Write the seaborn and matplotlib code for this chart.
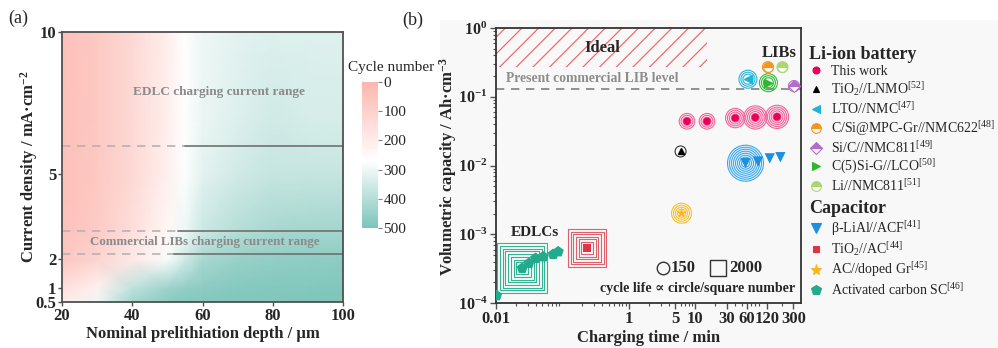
import numpy as np
import matplotlib
matplotlib.use('Agg')
import matplotlib.pyplot as plt
import seaborn as sns
from matplotlib.colors import LinearSegmentedColormap
from matplotlib.lines import Line2D
from matplotlib.patches import Rectangle
from matplotlib.ticker import LogLocator, NullFormatter, FixedLocator

sns.set_theme(style='ticks')
plt.rcParams['font.family'] = ['Liberation Serif', 'DejaVu Serif']
plt.rcParams['mathtext.fontset'] = 'custom'
plt.rcParams['mathtext.rm'] = 'Liberation Serif'
plt.rcParams['mathtext.bf'] = 'Liberation Serif:bold'
plt.rcParams['mathtext.it'] = 'Liberation Serif:italic'
plt.rcParams['mathtext.default'] = 'regular'
plt.rcParams['hatch.linewidth'] = 0.9

# ---------------- Panel (a) data ----------------
depth = [20, 30, 40, 50, 55, 60, 70, 80, 90, 100]
current = [0.5, 1, 2, 3, 5, 7, 10]
cycles = [
    [200, 300, 430, 470, 480, 485, 490, 490, 495, 495],   # 0.5
    [150, 220, 380, 440, 460, 470, 480, 485, 485, 490],   # 1
    [60, 110, 190, 280, 350, 420, 450, 460, 465, 470],    # 2
    [45, 80, 150, 240, 300, 360, 400, 420, 430, 430],     # 3
    [40, 70, 130, 215, 275, 320, 350, 370, 370, 370],     # 5
    [40, 70, 130, 210, 265, 305, 330, 350, 340, 340],     # 7
    [40, 70, 130, 210, 265, 300, 320, 330, 330, 330],     # 10
]
range_levels = [6.0, 3.0, 2.2]
range_split = [55, 53, 52]
a_xticks = [20, 40, 60, 80, 100]
a_yticks = [0.5, 1, 2, 5, 10]
cbar_ticks = [0, 100, 200, 300, 400, 500]

# ---------------- Panel (b) data ----------------
this_t = [7.5, 15, 40, 80, 170]
this_c = [0.044, 0.044, 0.049, 0.050, 0.051]
this_rings = [3, 3, 4, 5, 5]

lnmo_t = [6.0]; lnmo_c = [0.016]; lnmo_rings = [1]
lto_t = [62]; lto_c = [0.18]; lto_rings = [3]
csimpc_t = [124]; csimpc_c = [0.27]; csimpc_rings = [1]
sic_t = [306]; sic_c = [0.143]; sic_rings = [1]
c5si_t = [126]; c5si_c = [0.16]; c5si_rings = [3]
linmc_t = [205]; linmc_c = [0.27]; linmc_rings = [1]

lial_t = [57, 88, 132, 191]
lial_c = [0.0108, 0.0114, 0.0127, 0.0132]
lial_rings = [8, 0, 0, 0]
tio2ac_t = [0.236]; tio2ac_c = [6.3e-4]; tio2ac_squares = [6]
acgr_t = [6.2]; acgr_c = [0.00202]; acgr_rings = [4]
acsc_t = [0.0102, 0.0248, 0.0313, 0.0395, 0.0514, 0.0727, 0.0865]
acsc_c = [1.28e-4, 3.2e-4, 3.78e-4, 4.47e-4, 4.71e-4, 5.1e-4, 5.57e-4]
acsc_squares = [0, 8, 0, 0, 0, 0, 0]

ideal_t = [0.01, 15]
ideal_c = [0.27, 1.0]
lib_level = 0.131
b_xticks = [0.01, 1, 5, 10, 30, 60, 120, 300]
b_xticklabels = ['0.01', '1', '5', '10', '30', '60', '120', '300']
b_yticks = [1e-4, 1e-3, 1e-2, 1e-1, 1e0]

# ---------------- Figure ----------------
W, H = 998, 348
fig = plt.figure(figsize=(W / 100, H / 100), dpi=100)
fig.patches.append(Rectangle((440 / W, 0), 1 - 440 / W, 1 - 20 / H, transform=fig.transFigure,
                             facecolor='#f8f8f8', edgecolor='none', zorder=-10))

def fbox(x0, y0, x1, y1):
    return [x0 / W, 1 - y1 / H, (x1 - x0) / W, (y1 - y0) / H]

axa = fig.add_axes(fbox(62, 32, 343, 302))
cax = fig.add_axes(fbox(362, 82, 378, 228))
axb = fig.add_axes(fbox(496, 28, 801, 303))

spine_c = '#505050'
LABEL_FS = 12

# ----- panel (a)
cmap = LinearSegmentedColormap.from_list('cyc', [(0, '#fcb6ae'), (0.54, '#ffffff'), (1, '#7cc4b9')])
Z = np.array(cycles, dtype=float)
mesh = axa.pcolormesh(depth, current, Z, shading='gouraud', cmap=cmap, vmin=0, vmax=500)
axa.set_xlim(20, 100)
axa.set_ylim(0.5, 10)
for lev, sp in zip(range_levels, range_split):
    axa.plot([20, sp], [lev, lev], color='#b3b3b3', lw=1.2, ls=(0, (5, 4)))
    axa.plot([sp, 100], [lev, lev], color='#707070', lw=1.2)
axa.text(64.7, 7.9, 'EDLC charging current range', ha='center', va='center',
         fontsize=9.5, fontweight='bold', color='#8a8a8a')
axa.text(60.7, 2.62, 'Commercial LIBs charging current range', ha='center', va='center',
         fontsize=9.3, fontweight='bold', color='#8a8a8a')
axa.set_xticks(a_xticks)
axa.set_yticks(a_yticks)
axa.set_yticklabels(['0.5', '1', '2', '5', '10'])
axa.set_xlabel('Nominal prelithiation depth / μm', fontsize=LABEL_FS, fontweight='bold', labelpad=2)
axa.set_ylabel(r'Current density / mA·cm$^{\mathbf{-2}}$', fontsize=LABEL_FS, fontweight='bold')
axa.yaxis.set_label_coords(-0.078, 0.5)
axa.tick_params(direction='out', length=3, width=1, labelsize=12, pad=1, color=spine_c)
for lbl in axa.get_xticklabels() + axa.get_yticklabels():
    lbl.set_fontweight('bold')
for s in axa.spines.values():
    s.set_color(spine_c); s.set_linewidth(1.3)

cb = fig.colorbar(mesh, cax=cax, ticks=cbar_ticks)
cb.outline.set_visible(False)
cax.invert_yaxis()
cax.tick_params(direction='out', length=3, width=0.8, labelsize=11, pad=1, color='#808080')
fig.text(348 / W, 1 - 67 / H, 'Cycle number', fontsize=11, ha='left', va='center')

fig.text(8 / W, 1 - 18 / H, '(a)', fontsize=13, ha='left', va='center')
fig.text(402 / W, 1 - 20 / H, '(b)', fontsize=13, ha='left', va='center')

# ----- panel (b)
axb.set_facecolor('none')
axb.set_xscale('log'); axb.set_yscale('log')
axb.set_xlim(0.01, 390)
axb.set_ylim(1e-4, 1)

PX = 0.72  # points per pixel

def rings(ax, t, c, nrings, color, r0=4.0, step=2.0, marker='o', lw=0.8):
    for ti, ci, n in zip(t, c, nrings):
        for k in range(n):
            r = r0 + step * k
            ax.scatter([ti], [ci], s=(2 * r * PX) ** 2, marker=marker, facecolors='none',
                       edgecolors=color, linewidths=lw, zorder=3)

ax = axb
ax.fill_between(ideal_t, ideal_c[0], ideal_c[1], facecolor='none', edgecolor='#f36a6a',
                hatch='//', linewidth=0, zorder=1)
ax.axhline(lib_level, color='#808080', lw=1.2, ls=(0, (5, 4)), zorder=1)

# rings/squares
rings(ax, this_t, this_c, this_rings, '#f2639a', r0=4.0, step=1.9)
rings(ax, lnmo_t, lnmo_c, lnmo_rings, '#333333', r0=5.5)
rings(ax, lto_t, lto_c, lto_rings, '#27b6dc', r0=5.0, step=2.0)
rings(ax, c5si_t, c5si_c, c5si_rings, '#2fbf3a', r0=5.0, step=2.0)
rings(ax, csimpc_t, csimpc_c, csimpc_rings, '#f7931e', r0=5.5)
rings(ax, linmc_t, linmc_c, linmc_rings, '#a9d86e', r0=5.5)
rings(ax, sic_t, sic_c, sic_rings, '#b36bd0', r0=5.5)
rings(ax, lial_t, lial_c, lial_rings, '#38a7ee', r0=4.0, step=2.0)
rings(ax, acgr_t, acgr_c, acgr_rings, '#fbc02d', r0=4.0, step=2.0)
rings(ax, tio2ac_t, tio2ac_c, tio2ac_squares, '#e0606e', r0=6.0, step=2.6, marker='s')
rings(ax, acsc_t, acsc_c, acsc_squares, '#34b496', r0=6.0, step=2.7, marker='s')

# core markers
sns.scatterplot(x=this_t, y=this_c, ax=ax, marker='o', color='#e8005a', s=30, edgecolor='none', zorder=5, legend=False)
sns.scatterplot(x=lial_t, y=lial_c, ax=ax, marker='v', color='#1a8fe3', s=55, edgecolor='none', zorder=5, legend=False)
sns.scatterplot(x=tio2ac_t, y=tio2ac_c, ax=ax, marker='s', color='#dc3545', s=30, edgecolor='none', zorder=5, legend=False)
sns.scatterplot(x=acgr_t, y=acgr_c, ax=ax, marker='*', color='#fbb41c', s=60, edgecolor='none', zorder=5, legend=False)
sns.scatterplot(x=acsc_t, y=acsc_c, ax=ax, marker='p', color='#21ab8c', s=70, edgecolor='none', zorder=5, legend=False)
ax.plot(lnmo_t, lnmo_c, ls='none', marker='^', color='black', ms=5, zorder=5)
ax.plot(lto_t, lto_c, ls='none', marker='<', color='#1cb5d8', ms=6, zorder=5)
ax.plot(c5si_t, c5si_c, ls='none', marker='>', color='#2db82d', ms=6, zorder=5)
ax.plot(csimpc_t, csimpc_c, ls='none', marker='o', color='#f7941d', fillstyle='top',
        markerfacecoloralt='white', ms=7, mew=0.8, zorder=5)
ax.plot(linmc_t, linmc_c, ls='none', marker='o', color='#a8d86e', fillstyle='top',
        markerfacecoloralt='white', ms=7, mew=0.8, zorder=5)
ax.plot(sic_t, sic_c, ls='none', marker='D', color='#b26ccc', fillstyle='top',
        markerfacecoloralt='white', ms=6, mew=0.8, zorder=5)

# annotations
tr = ax.transAxes
ax.text(0.348, 0.927, 'Ideal', transform=tr, ha='center', va='center', fontsize=12, fontweight='bold')
ax.text(0.033, 0.815, 'Present commercial LIB level', transform=tr, ha='left', va='center',
        fontsize=9.8, fontweight='bold', color='#8c8c8c')
ax.text(0.928, 0.909, 'LIBs', transform=tr, ha='center', va='center', fontsize=12, fontweight='bold')
ax.text(0.128, 0.258, 'EDLCs', transform=tr, ha='center', va='center', fontsize=11, fontweight='bold')
ax.plot([0.548], [0.127], transform=tr, marker='o', ms=9, mfc='none', mec='#333333', mew=1.0, ls='none')
ax.text(0.572, 0.127, '150', transform=tr, ha='left', va='center', fontsize=12, fontweight='bold')
ax.plot([0.728], [0.127], transform=tr, marker='s', ms=12, mfc='none', mec='#333333', mew=1.0, ls='none')
ax.text(0.765, 0.127, '2000', transform=tr, ha='left', va='center', fontsize=12, fontweight='bold')
ax.text(0.662, 0.051, 'cycle life ∝ circle/square number', transform=tr, ha='center', va='center',
        fontsize=10, fontweight='bold', family=['Liberation Serif', 'DejaVu Serif'])

ax.xaxis.set_major_locator(FixedLocator(b_xticks))
ax.set_xticklabels(b_xticklabels)
ax.xaxis.set_minor_locator(LogLocator(base=10, subs=np.arange(2, 10)))
ax.xaxis.set_minor_formatter(NullFormatter())
ax.set_yticks(b_yticks)
ax.set_yticklabels([r'10$^{\mathbf{-4}}$', r'10$^{\mathbf{-3}}$', r'10$^{\mathbf{-2}}$',
                    r'10$^{\mathbf{-1}}$', r'10$^{\mathbf{0}}$'])
ax.yaxis.set_minor_locator(LogLocator(base=10, subs=np.arange(2, 10)))
ax.yaxis.set_minor_formatter(NullFormatter())
ax.tick_params(which='major', direction='out', length=4, width=1, labelsize=12, pad=2, color=spine_c)
ax.tick_params(axis='y', which='major', labelsize=11.5)
ax.tick_params(which='minor', direction='out', length=2.5, width=0.8, color=spine_c)
for lbl in ax.get_xticklabels() + ax.get_yticklabels():
    lbl.set_fontweight('bold')
ax.set_xlabel('Charging time / min', fontsize=LABEL_FS, fontweight='bold', labelpad=2)
ax.set_ylabel(r'Volumetric capacity / Ah·cm$^{\mathbf{-3}}$', fontsize=LABEL_FS, fontweight='bold')
ax.yaxis.set_label_coords(-0.122, 0.495)
for s in ax.spines.values():
    s.set_color('#333333'); s.set_linewidth(1.3)

# legends
def h(marker, color, ms=6, fillstyle='full'):
    return Line2D([], [], ls='none', marker=marker, color=color, ms=ms, fillstyle=fillstyle,
                  markerfacecoloralt='white', mew=0.8)

li_handles = [h('o', '#e8005a', 5), h('^', 'black', 5), h('<', '#1cb5d8', 6),
              h('o', '#f7941d', 7, 'top'), h('D', '#b26ccc', 6, 'top'),
              h('>', '#2db82d', 6), h('o', '#a8d86e', 7, 'top')]
li_labels = ['This work', r'TiO$_2$//LNMO$^{[52]}$', r'LTO//NMC$^{[47]}$',
             r'C/Si@MPC-Gr//NMC622$^{[48]}$', r'Si/C//NMC811$^{[49]}$',
             r'C(5)Si-G//LCO$^{[50]}$', r'Li//NMC811$^{[51]}$']
cap_handles = [h('v', '#1a8fe3', 7), h('s', '#dc3545', 5), h('*', '#fbb41c', 8), h('p', '#21ab8c', 7)]
cap_labels = [r'β-LiAl//ACF$^{[41]}$', r'TiO$_2$//AC$^{[44]}$', r'AC//doped Gr$^{[45]}$',
              r'Activated carbon SC$^{[46]}$']

leg1 = fig.legend(li_handles, li_labels, title='Li-ion battery', loc='upper left',
                  bbox_to_anchor=(802 / W, 1 - 39 / H), frameon=False, fontsize=10,
                  labelspacing=0.16, handlelength=1.0, handletextpad=0.6, borderpad=0,
                  alignment='left', title_fontproperties={'weight': 'bold', 'size': 13})
leg2 = fig.legend(cap_handles, cap_labels, title='Capacitor', loc='upper left',
                  bbox_to_anchor=(802 / W, 1 - 193 / H), frameon=False, fontsize=10,
                  labelspacing=0.16, handlelength=1.0, handletextpad=0.6, borderpad=0,
                  alignment='left', title_fontproperties={'weight': 'bold', 'size': 13})

fig.savefig('out.png', dpi=100)
